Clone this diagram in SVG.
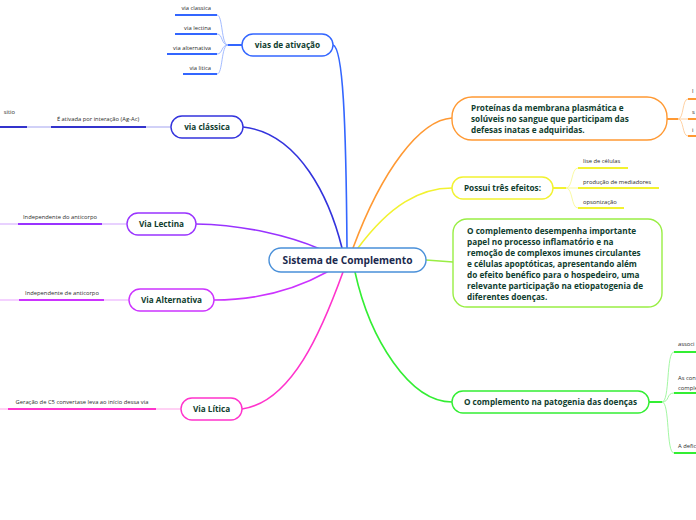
<svg xmlns="http://www.w3.org/2000/svg" width="696" height="520" viewBox="0 0 696 520">
<style>
.nt{font-family:"Open Sans","Noto Sans",sans-serif;font-weight:bold;font-size:8.2px;fill:#0f3d2e}
.ct{font-family:"Open Sans","Noto Sans",sans-serif;font-weight:bold;font-size:10.2px;fill:#1b2a4e}
.st{font-family:"Open Sans","Noto Sans",sans-serif;font-size:5.8px;fill:#2a2a2a}
.box{fill:#fff;stroke-width:1.4}
.c{fill:none;stroke-width:1.6;stroke-linecap:round}
.th{fill:none;stroke-width:0.9}
.ul{fill:none;stroke-width:2}
</style>
<rect width="696" height="520" fill="#fff"/>
<g id="connectors">
<path class="c" stroke="#3366ff" d="M333,45 C343,48 346,120 347,248"/>
<path class="c" stroke="#3333dd" d="M243,127 C300,133 330,200 342,248"/>
<path class="c" stroke="#9933ff" d="M196,224 C245,225 290,236 320,249"/>
<path class="c" stroke="#cc33ff" d="M214,300 C262,300 300,287 327,272"/>
<path class="c" stroke="#ff33cc" d="M242,409 C292,402 322,330 343,272"/>
<path class="c" stroke="#ff9933" d="M353,248 C382,170 420,120 452,118"/>
<path class="c" stroke="#f2f230" d="M358,248 C390,205 420,188 452,188"/>
<path class="c" stroke="#99ee44" d="M426,260 L453,262"/>
<path class="c" stroke="#33ee33" d="M355,272 C370,340 410,402 452,402"/>
<path class="ul" stroke="#3366ff" d="M242,45 H228"/>
<path class="th" stroke="#99b3ff" d="M228,45 C221,45 223,15 217,15 M228,45 C221,45 223,34 217,34 M228,45 C221,45 223,54 217,54 M228,45 C221,45 223,74 217,74"/>
<path class="ul" stroke="#3366ff" d="M175,15 H217 M175,34 H217 M167,54 H217 M183,74 H217"/>
<path class="th" stroke="#9999ee" d="M171,127 H146 M51,127 H27"/>
<path class="ul" stroke="#3333cc" d="M51,127 H146 M0,127 H27"/>
<path class="th" stroke="#cc99ff" d="M127,224 H102 M18,224 H0"/>
<path class="ul" stroke="#9933ff" d="M18,224 H102"/>
<path class="th" stroke="#e699ff" d="M129,300 H104 M19,300 H0"/>
<path class="ul" stroke="#cc33ff" d="M19,300 H104"/>
<path class="th" stroke="#ff99e6" d="M181,409 H156 M8,409 H0"/>
<path class="ul" stroke="#ff33cc" d="M8,409 H156"/>
<path class="ul" stroke="#ff9933" d="M667,119 H678"/>
<path class="th" stroke="#ffcc99" d="M678,119 C684,119 682,99 688,99 M678,119 H688 M678,119 C684,119 682,136 688,136"/>
<path class="ul" stroke="#ff9933" d="M688,99 H696 M688,119 H696 M688,136 H696"/>
<path class="ul" stroke="#f2f230" d="M553,188 H566"/>
<path class="th" stroke="#f8f898" d="M566,188 C573,188 571,168 578,168 M566,188 H578 M566,188 C573,188 571,208 578,208"/>
<path class="ul" stroke="#f2f230" d="M578,168 H628 M578,188 H659 M578,208 H624"/>
<path class="ul" stroke="#33ee33" d="M649,402 H662"/>
<path class="th" stroke="#99f599" d="M662,402 C670,402 666,352 674,352 M662,402 C670,402 666,393 674,393 M662,402 C670,402 666,453 674,453"/>
<path class="ul" stroke="#33ee33" d="M674,352 H696 M674,393 H696 M674,453 H696"/>
</g>
<g id="n-centro">
<rect class="box" stroke="#4a90d9" x="269" y="248" width="157" height="24" rx="12"/>
<text class="ct" x="347.5" y="264" text-anchor="middle">Sistema de Complemento</text>
</g>
<g id="n-vias">
<rect class="box" stroke="#3366ff" x="242" y="34" width="91" height="22" rx="11"/>
<text class="nt" x="287.5" y="48" text-anchor="middle">vias de ativação</text>
</g>
<g id="n-vias-items">
<text class="st" x="211" y="10" text-anchor="end">via classica</text>
<text class="st" x="211" y="30" text-anchor="end">via lectina</text>
<text class="st" x="211" y="50" text-anchor="end">via alternativa</text>
<text class="st" x="211" y="70" text-anchor="end">via litica</text>
</g>
<g id="n-classica">
<rect class="box" stroke="#3333dd" x="171" y="116" width="72" height="22" rx="11"/>
<text class="nt" x="207" y="130" text-anchor="middle">via clássica</text>
<text class="st" x="98" y="121" text-anchor="middle">É ativada por interação (Ag-Ac)</text>
<text class="st" x="15" y="114" text-anchor="end">sitio</text>
</g>
<g id="n-lectina">
<rect class="box" stroke="#9933ff" x="127" y="213" width="69" height="22" rx="11"/>
<text class="nt" x="161.5" y="227" text-anchor="middle">Via Lectina</text>
<text class="st" x="60" y="219" text-anchor="middle">Independente do anticorpo</text>
</g>
<g id="n-alternativa">
<rect class="box" stroke="#cc33ff" x="129" y="289" width="85" height="22" rx="11"/>
<text class="nt" x="171.5" y="303" text-anchor="middle">Via Alternativa</text>
<text class="st" x="62" y="295" text-anchor="middle">Independente de anticorpo</text>
</g>
<g id="n-litica">
<rect class="box" stroke="#ff33cc" x="181" y="398" width="61" height="22" rx="11"/>
<text class="nt" x="211.5" y="412" text-anchor="middle">Via Lítica</text>
<text class="st" x="82" y="404" text-anchor="middle">Geração de C5 convertase leva ao início dessa via</text>
</g>
<g id="n-proteinas">
<rect class="box" stroke="#ff9933" x="452" y="97" width="215" height="43" rx="20"/>
<text class="nt" x="471" y="111">Proteínas da membrana plasmática e</text>
<text class="nt" x="471" y="122">solúveis no sangue que participam das</text>
<text class="nt" x="471" y="133">defesas inatas e adquiridas.</text>
<text class="st" x="692" y="93">l</text>
<text class="st" x="692" y="114">s</text>
<text class="st" x="692" y="132">i</text>
</g>
<g id="n-efeitos">
<rect class="box" stroke="#f2f230" x="452" y="177" width="101" height="22" rx="11"/>
<text class="nt" x="502.5" y="191" text-anchor="middle">Possui três efeitos:</text>
<text class="st" x="583" y="163">lise de células</text>
<text class="st" x="583" y="184">produção de mediadores</text>
<text class="st" x="583" y="204">opsonização</text>
</g>
<g id="n-papel">
<rect class="box" stroke="#99ee44" x="453" y="219" width="209" height="88" rx="14"/>
<text class="nt" x="467" y="234">O complemento desempenha importante</text>
<text class="nt" x="467" y="245">papel no processo inflamatório e na</text>
<text class="nt" x="467" y="256">remoção de complexos imunes circulantes</text>
<text class="nt" x="467" y="267">e células apoptóticas, apresentando além</text>
<text class="nt" x="467" y="278">do efeito benéfico para o hospedeiro, uma</text>
<text class="nt" x="467" y="289">relevante participação na etiopatogenia de</text>
<text class="nt" x="467" y="300">diferentes doenças.</text>
</g>
<g id="n-patogenia">
<rect class="box" stroke="#33ee33" x="452" y="391" width="197" height="22" rx="11"/>
<text class="nt" x="550.5" y="405" text-anchor="middle">O complemento na patogenia das doenças</text>
<text class="st" x="678" y="346">associ</text>
<text class="st" x="678" y="380">As con</text>
<text class="st" x="678" y="390">comple</text>
<text class="st" x="678" y="448">A defic</text>
</g>
</svg>
